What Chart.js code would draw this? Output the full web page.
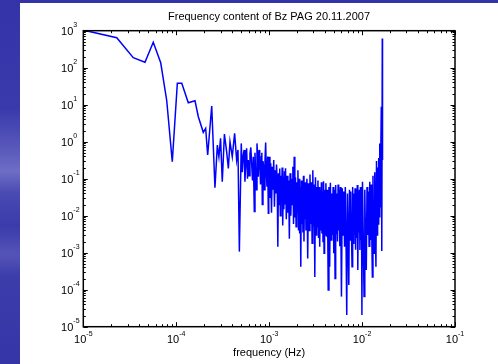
<!DOCTYPE html>
<html>
<head>
<meta charset="utf-8">
<script src="https://cdn.jsdelivr.net/npm/chart.js@4/dist/chart.umd.min.js"></script>
<style>
  html, body { margin: 0; padding: 0; }
  body {
    width: 498px; height: 364px; position: relative; overflow: hidden;
    background: linear-gradient(180deg, #3434a8 0%, #3a3aad 30%, #5c5cbd 42%, #6e6ec6 47%, #4a4ab3 53%, #3b3bab 62%, #5454b7 70%, #3c3cab 76%, #3535a8 100%);
  }
  #panel { position: absolute; left: 20px; top: 3px; right: 0; bottom: 0; background: #fff; }
  #c { position: absolute; left: 0; top: 0; }
</style>
</head>
<body>
<div id="panel"></div>
<canvas id="c" width="498" height="364"></canvas>
<script>
// spectrum of Bz (frequency in Hz, power)
// low band: single bins well apart
const lowFreq = [1.07e-5, 2.29e-5, 3.45e-5, 4.61e-5, 5.66e-5, 6.81e-5, 7.9e-5, 9.07e-5, 1.028e-4, 1.147e-4,
  1.349e-4, 1.592e-4, 1.729e-4, 1.955e-4, 2.074e-4, 2.18e-4, 2.41e-4];
const lowPower = [1000, 647, 186, 140, 485, 136, 13, 0.288, 38, 38,
  11.3, 12.8, 4.74, 1.79, 2.3, 0.437, 9.2];

// mid band: 2.6e-4 .. 1e-3 Hz
const midFreq = [2.61e-4, 2.77e-4, 2.88e-4, 3.0e-4, 3.13e-4, 3.3e-4, 3.49e-4, 3.64e-4, 3.79e-4, 4.01e-4,
  4.25e-4, 4.47e-4, 4.62e-4, 4.78e-4, 5.01e-4, 5.14e-4, 5.27e-4, 5.38e-4, 5.49e-4, 5.6e-4,
  5.72e-4, 5.85e-4, 5.97e-4, 6.1e-4, 6.22e-4, 6.35e-4, 6.48e-4, 6.62e-4, 6.76e-4, 6.92e-4,
  7.04e-4, 7.16e-4, 7.28e-4, 7.4e-4, 7.52e-4, 7.64e-4, 7.78e-4, 7.91e-4, 8.08e-4, 8.24e-4,
  8.34e-4, 8.44e-4, 8.58e-4, 8.73e-4, 8.88e-4, 9.02e-4, 9.17e-4, 9.32e-4, 9.48e-4, 9.64e-4,
  9.8e-4, 9.9e-4];
const midPower = [0.057, 0.81, 0.39, 1.23, 0.083, 1.6, 0.53, 0.19, 1.0, 0.39,
  1.68, 0.32, 0.6, 0.00107, 0.9, 0.15, 0.44, 0.6, 0.083, 0.25,
  0.66, 0.1, 0.32, 0.12, 0.48, 0.7, 0.26, 0.09, 0.39, 0.013,
  0.5, 0.139, 0.05, 0.9, 0.4, 0.113, 0.6, 0.32, 0.07, 0.39,
  0.5, 0.02, 0.3, 0.21, 0.05, 0.3, 0.95, 0.15, 0.061, 0.4,
  0.0116, 0.1];

// high band: 1e-3 Hz .. Nyquist, dense bins
const highFreq = [
  0.00100, 0.00102, 0.00104, 0.00106, 0.00108, 0.00110, 0.00112, 0.00114, 0.00116, 0.00118,
  0.00120, 0.00122, 0.00124, 0.00126, 0.00128, 0.00130, 0.00132, 0.00134, 0.00136, 0.00138,
  0.00140, 0.00142, 0.00144, 0.00146, 0.00148,
  0.00150, 0.00153, 0.00156, 0.00159, 0.00162, 0.00165, 0.00168, 0.00171, 0.00174, 0.00177,
  0.00180, 0.00183, 0.00186, 0.00189, 0.00192, 0.00195, 0.00198, 0.00201, 0.00204, 0.00207,
  0.00210, 0.00213, 0.00216, 0.00219, 0.00222, 0.00225, 0.00228, 0.00231, 0.00234, 0.00237,
  0.00240, 0.00243, 0.00246, 0.00249,
  0.00255, 0.00260, 0.00265, 0.00270, 0.00275, 0.00280, 0.00285, 0.00290, 0.00295, 0.00300,
  0.00305, 0.00310, 0.00315, 0.00320, 0.00325, 0.00330, 0.00335, 0.00340, 0.00345, 0.00350,
  0.00355, 0.00360, 0.00365, 0.00370, 0.00375, 0.00380, 0.00385, 0.00390, 0.00395,
  0.00400, 0.00408, 0.00416, 0.00424, 0.00432, 0.00440, 0.00448, 0.00456, 0.00464, 0.00472,
  0.00480, 0.00488, 0.00496, 0.00504, 0.00512, 0.00520, 0.00528, 0.00536, 0.00544, 0.00552,
  0.00560, 0.00568, 0.00576, 0.00584, 0.00592,
  0.00600, 0.00612, 0.00624, 0.00636, 0.00648, 0.00660, 0.00672, 0.00684, 0.00696, 0.00708,
  0.00720, 0.00732, 0.00744, 0.00756, 0.00768, 0.00780, 0.00792, 0.00804, 0.00816, 0.00828,
  0.00840, 0.00852, 0.00864, 0.00876, 0.00888, 0.00900, 0.00912, 0.00924, 0.00936, 0.00948,
  0.00960, 0.00972, 0.00984, 0.00996,
  0.0101, 0.0103, 0.0105, 0.0107, 0.0109, 0.0111, 0.0113, 0.0115, 0.0117, 0.0119,
  0.0121, 0.0123, 0.0125, 0.0127, 0.0129, 0.0131, 0.0133, 0.0135, 0.0137, 0.0139,
  0.0141, 0.0143, 0.0145, 0.0147, 0.0149, 0.0151, 0.0153, 0.0155, 0.0157, 0.0159,
  0.0161, 0.0163, 0.0165, 0.0166
];
const highPower = [
  0.39, 0.03, 0.26, 0.012, 0.21, 0.05, 0.32, 0.0175, 0.17, 0.04,
  0.24, 0.09, 0.00145, 0.14, 0.02, 0.19, 0.01, 0.12, 0.03, 0.2,
  0.0054, 0.11, 0.015, 0.16, 0.02,
  0.19, 0.008, 0.12, 0.012, 0.09, 0.0024, 0.14, 0.01, 0.1, 0.02,
  0.21, 0.006, 0.39, 0.009, 0.11, 0.005, 0.08, 0.012, 0.17, 0.004,
  0.1, 0.0033, 0.06, 0.00042, 0.09, 0.006, 0.07, 0.0035, 0.12, 0.002,
  0.06, 0.008, 0.08, 0.004,
  0.1, 0.0007, 0.075, 0.004, 0.13, 0.006, 0.08, 0.0018, 0.17, 0.005,
  0.07, 0.00022, 0.11, 0.003, 0.06, 0.005, 0.09, 0.0025, 0.06, 0.00145,
  0.05, 0.004, 0.08, 0.0033, 0.045, 0.002, 0.085, 0.00096, 0.05,
  0.003, 0.075, 0.0027, 0.05, 0.000098, 0.06, 0.00042, 0.078, 0.0022, 0.04,
  0.003, 0.06, 0.00096, 0.05, 0.0002, 0.068, 0.0033, 0.04, 0.002, 0.07,
  0.004, 0.05, 0.0015, 0.06, 0.003,
  0.000065, 0.055, 0.003, 0.045, 0.00145, 0.06, 0.002, 0.0000207, 0.04, 0.003,
  0.000135, 0.05, 0.0022, 0.045, 0.0042, 0.00042, 0.06, 0.0018, 0.04, 0.003,
  0.055, 0.0012, 0.05, 0.0025, 0.068, 0.00034, 0.045, 0.0035, 0.05, 0.00118,
  0.06, 0.0022, 0.045, 0.0000207,
  0.083, 0.003, 0.000065, 0.05, 0.002, 0.00034, 0.06, 0.003, 0.045, 0.0015,
  0.083, 0.0022, 0.07, 0.004, 0.00022, 0.12, 0.003, 0.00096, 0.15, 0.004,
  0.00042, 0.3, 0.003, 0.2, 0.006, 0.36, 0.0094, 0.9, 0.0175, 0.5,
  8.8, 0.00112, 620, 0.32
];

// axis decades (tick labels are 10^exp)
const xExponents = [-5, -4, -3, -2, -1];
const yExponents = [-5, -4, -3, -2, -1, 0, 1, 2, 3];

const freqHz = lowFreq.concat(midFreq, highFreq);
const powerBz = lowPower.concat(midPower, highPower);

const FONT = '"Liberation Sans", Arial, Helvetica, sans-serif';

// matlab style box: inside ticks on all 4 sides + 10^n labels
const matlabAxes = {
  id: 'matlabAxes',
  afterDatasetsDraw(chart) {
    const { ctx, chartArea: a, scales: { x, y } } = chart;
    ctx.save();
    ctx.strokeStyle = '#000';
    ctx.lineWidth = 1;
    ctx.beginPath();
    for (let i = 0; i < xExponents.length; i++) {
      for (let m = 1; m < 10; m++) {
        const v = m * Math.pow(10, xExponents[i]);
        if (v > x.max * 1.0001) break;
        const px = Math.round(x.getPixelForValue(v)) + 0.5;
        const len = m === 1 ? 4.5 : 2.5;
        ctx.moveTo(px, a.bottom); ctx.lineTo(px, a.bottom - len);
        ctx.moveTo(px, a.top); ctx.lineTo(px, a.top + len);
      }
    }
    for (let i = 0; i < yExponents.length; i++) {
      for (let m = 1; m < 10; m++) {
        const v = m * Math.pow(10, yExponents[i]);
        if (v > y.max * 1.0001) break;
        const py = Math.round(y.getPixelForValue(v)) + 0.5;
        const len = m === 1 ? 4.5 : 2.5;
        ctx.moveTo(a.left, py); ctx.lineTo(a.left + len, py);
        ctx.moveTo(a.right, py); ctx.lineTo(a.right - len, py);
      }
    }
    ctx.stroke();

    ctx.lineWidth = 1.5;
    ctx.strokeRect(a.left, a.top, a.right - a.left, a.bottom - a.top);

    ctx.fillStyle = '#000';
    ctx.textBaseline = 'alphabetic';
    xExponents.forEach(e => {
      const px = x.getPixelForValue(Math.pow(10, e));
      ctx.font = '11px ' + FONT;
      const w1 = ctx.measureText('10').width;
      ctx.font = '7px ' + FONT;
      const w2 = ctx.measureText(String(e)).width;
      const start = px - (w1 + w2) / 2;
      ctx.textAlign = 'left';
      ctx.font = '11px ' + FONT;
      ctx.fillText('10', start, a.bottom + 16.5);
      ctx.font = '7px ' + FONT;
      ctx.fillText(String(e), start + w1, a.bottom + 9);
    });
    yExponents.forEach(e => {
      const py = y.getPixelForValue(Math.pow(10, e));
      const edge = a.left - 10;
      ctx.textAlign = 'right';
      ctx.font = '11px ' + FONT;
      ctx.fillText('10', edge, py + 3.8);
      ctx.textAlign = 'left';
      ctx.font = '7px ' + FONT;
      ctx.fillText(String(e), edge, py - 3.8);
    });
    ctx.restore();
  }
};

new Chart(document.getElementById('c'), {
  type: 'line',
  data: {
    datasets: [{
      data: freqHz.map((f, i) => ({ x: f, y: powerBz[i] })),
      borderColor: '#0000ff',
      borderWidth: 1.5,
      pointRadius: 0,
      tension: 0,
      fill: false
    }]
  },
  options: {
    responsive: false,
    animation: false,
    events: [],
    // left padding keeps the title centred over the axes box
    layout: { padding: { top: 0, right: 43, left: 83, bottom: 0 } },
    scales: {
      x: {
        type: 'logarithmic',
        min: 1e-5,
        max: 1e-1,
        grid: { display: false },
        border: { display: false },
        ticks: { display: false },
        title: {
          display: true,
          text: 'frequency (Hz)',
          color: '#000',
          font: { family: FONT, size: 11 },
          padding: { top: 0, bottom: 4 }
        },
        afterFit: (s) => { s.height = 37.3; }
      },
      y: {
        type: 'logarithmic',
        min: 1e-5,
        max: 1e3,
        grid: { display: false },
        border: { display: false },
        ticks: { display: false },
        afterFit: (s) => { s.width = 0.3; }
      }
    },
    plugins: {
      legend: { display: false },
      tooltip: { enabled: false },
      title: {
        display: true,
        text: 'Frequency content of Bz PAG 20.11.2007',
        color: '#000',
        font: { family: FONT, size: 11, weight: 'normal' },
        padding: { top: 10, bottom: 7.5 }
      }
    }
  },
  plugins: [matlabAxes]
});
</script>
</body>
</html>
